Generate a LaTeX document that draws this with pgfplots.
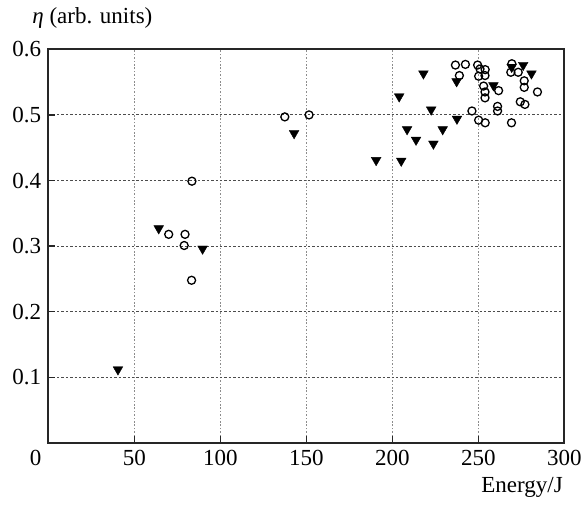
\documentclass[border=0pt]{standalone}
\usepackage{fontspec}
\setmainfont{Liberation Serif}
\usepackage{pgfplots}
\pgfplotsset{compat=1.18}
\begin{document}
\begin{tikzpicture}
\begin{axis}[
  scale only axis, width=258pt, height=196.85pt,
  xmin=0, xmax=300, ymin=0, ymax=0.6,
  clip=false,
  xtick={0,50,100,150,200,250,300},
  xticklabels={\makebox[0pt][r]{0\hspace{3.5pt}},50,100,150,200,250,300},
  ytick={0.1,0.2,0.3,0.4,0.5,0.6},
  yticklabels={0.1,0.2,0.3,0.4,0.5,0.6},
  /pgf/number format/assume math mode=true,
  tick label style={font=\fontsize{11.5}{13}\selectfont, black},
  xtick pos=left, ytick pos=left,
  tick align=inside, major tick length=3.5pt,
  tick style={black!85, line width=0.7pt},
  axis line style={black!85, line width=1.1pt},
  grid=major,
  x grid style={black!45, line width=0.6pt, dash pattern=on 0.8pt off 0.9pt},
  y grid style={black!70, line width=0.45pt, dash pattern=on 1.2pt off 1pt},
  xlabel={Energy/J},
  xlabel style={at={(rel axis cs:1,0)}, anchor=north east, inner sep=0pt, xshift=-0.6pt, yshift=-16.8pt, font=\fontsize{11.5}{13}\selectfont},
]
\addplot[only marks, mark=o, mark size=2pt, mark options={line width=0.65pt, black}] coordinates {
(70,0.318) (79.5,0.318) (79,0.301) (83.5,0.399) (83.3,0.248)
(137.5,0.497) (151.6,0.500)
(236.7,0.576) (242.5,0.577) (239,0.560) (249.6,0.576) (251,0.570) (254,0.569)
(250.2,0.559) (253.9,0.560) (253.1,0.544) (253.9,0.535) (253.9,0.526)
(261.8,0.537) (261.2,0.513) (261.2,0.506) (246.3,0.506) (250.2,0.492) (254,0.488)
(269.3,0.488) (269.5,0.578) (268.9,0.565) (273.2,0.565) (276.7,0.552) (276.7,0.542)
(284.4,0.535) (274.4,0.520) (277.1,0.516)
};
\addplot[only marks, mark=triangle*, mark size=2.8pt, mark options={rotate=180, fill=black, draw=black, line width=0.2pt}] coordinates {
(40.5,0.112) (64.2,0.327) (89.7,0.296) (142.9,0.472) (190.6,0.431) (204,0.528)
(205.2,0.430) (208.6,0.478) (213.8,0.462) (218.1,0.563) (222.6,0.508) (223.9,0.456)
(229.3,0.478) (237.4,0.551) (237.6,0.494) (258.8,0.545) (269.4,0.573) (276.1,0.576)
(280.9,0.563)
};
\node[anchor=west, inner sep=0pt, xshift=-8.15pt, yshift=15.65pt, font=\fontsize{11.5}{13}\selectfont] at (rel axis cs:0,1) {\textit{η} (arb. units)};
\end{axis}
\pgfresetboundingbox
\path[use as bounding box] (-24.15pt,-30.5pt) rectangle (269.35pt,221.5pt);
\end{tikzpicture}
\end{document}
